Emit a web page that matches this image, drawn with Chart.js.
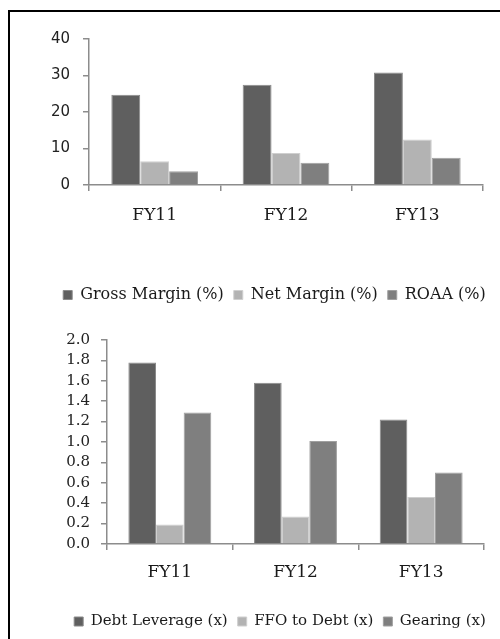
<!DOCTYPE html>
<html>
<head>
<meta charset="utf-8">
<script src="https://cdn.jsdelivr.net/npm/chart.js@4"></script>
<style>
  html, body { margin: 0; padding: 0; background: #fff; }
  body { width: 500px; height: 639px; position: relative; overflow: hidden; }
  .frame { position: absolute; left: 8px; top: 10px; width: 520px; height: 660px; border: 2px solid #000; box-sizing: border-box; }
  .box { position: absolute; left: 0; width: 500px; }
  #top { top: 0; height: 320px; }
  #bottom { top: 320px; height: 319px; }
</style>
</head>
<body>
<div class="frame"></div>
<div class="box" id="top"><canvas id="marginChart" width="500" height="320"></canvas></div>
<div class="box" id="bottom"><canvas id="leverageChart" width="500" height="319"></canvas></div>
<script>
const years = ["FY11", "FY12", "FY13"];

// profitability (%)
const grossMargin = [24.7, 27.5, 30.8];
const netMargin = [6.5, 8.8, 12.5];
const roaa = [3.8, 6.1, 7.5];
const marginMax = 40;
const marginStep = 10;

// leverage (x)
const debtLeverage = [1.78, 1.58, 1.22];
const ffoToDebt = [0.19, 0.27, 0.46];
const gearing = [1.29, 1.01, 0.70];
const leverageMax = 2.0;
const leverageStep = 0.2;

const DARK = "#5f5f5f", LIGHT = "#b3b3b3", MID = "#7f7f7f";
const AXIS = "#8c8c8c";
const serif = "'DejaVu Serif', serif";

function series(label, data, color, edge) {
    return {
        label: label, data: data,
        backgroundColor: color, borderColor: edge, borderWidth: 1,
        barPercentage: 1.0, categoryPercentage: 0.66
    };
}

// the legend sits right of centre in the original, nudge it sideways after layout
const legendShift = {
    id: "legendShift",
    afterLayout(chart, args, opts) {
        const lg = chart.legend;
        if (!lg) return;
        lg.left += opts.dx;
        lg.right += opts.dx;
    }
};

function makeChart(id, datasets, cfg) {
    const ctx = document.getElementById(id).getContext("2d");
    return new Chart(ctx, {
        type: "bar",
        data: { labels: years, datasets: datasets },
        plugins: [legendShift],
        options: {
            responsive: false,
            animation: false,
            layout: { padding: cfg.padding },
            plugins: {
                tooltip: { enabled: false },
                legendShift: { dx: cfg.legendDx },
                legend: {
                    position: "bottom",
                    labels: {
                        color: "#1a1a1a",
                        font: { family: serif, size: cfg.legendSize },
                        boxWidth: 9, boxHeight: 9,
                        padding: 10
                    }
                }
            },
            scales: {
                x: {
                    grid: { display: true, offset: true, drawOnChartArea: false, color: AXIS, tickLength: 6, lineWidth: 1.5 },
                    border: { color: AXIS, width: 1.5 },
                    ticks: { color: "#1a1a1a", font: { family: serif, size: 17 }, padding: cfg.xPad },
                    afterFit: s => { s.height = cfg.xHeight; }
                },
                y: {
                    min: 0, max: cfg.max,
                    grid: { drawOnChartArea: false, color: AXIS, tickLength: 6, lineWidth: 1.5 },
                    border: { color: AXIS, width: 1.5 },
                    ticks: {
                        stepSize: cfg.step,
                        autoSkip: false,
                        color: "#222",
                        font: cfg.tickFont,
                        padding: cfg.yPad,
                        callback: v => cfg.fmt(v)
                    },
                    afterFit: s => { s.width = cfg.yWidth; }
                }
            }
        }
    });
}

makeChart("marginChart", [
    series("Gross Margin (%)", grossMargin, DARK, "#8a8a8a"),
    series("Net Margin (%)", netMargin, LIGHT, "#cfcfcf"),
    series("ROAA (%)", roaa, MID, "#a0a0a0")
], {
    max: marginMax, step: marginStep,
    padding: { left: 0, right: 17, top: 39, bottom: 7 },
    yWidth: 89, yPad: 13, xPad: 14, xHeight: 92,
    legendSize: 16, legendDx: 33,
    tickFont: { family: "'DejaVu Sans', sans-serif", size: 15 },
    fmt: v => String(Math.round(v))
});

makeChart("leverageChart", [
    series("Debt Leverage (x)", debtLeverage, DARK, "#8a8a8a"),
    series("FFO to Debt (x)", ffoToDebt, LIGHT, "#cfcfcf"),
    series("Gearing (x)", gearing, MID, "#a0a0a0")
], {
    max: leverageMax, step: leverageStep,
    padding: { left: 0, right: 16, top: 18, bottom: 0 },
    yWidth: 107, yPad: 11, xPad: 12, xHeight: 60,
    legendSize: 15, legendDx: 38,
    tickFont: { family: serif, size: 15 },
    fmt: v => v.toFixed(1)
});
</script>
</body>
</html>
